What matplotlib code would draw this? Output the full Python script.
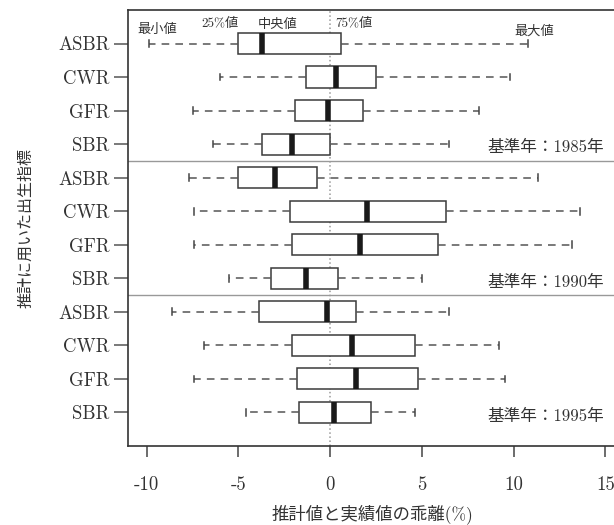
import numpy as np
import matplotlib.pyplot as plt

plt.rcParams['font.family'] = ['cmr10', 'Noto Sans CJK JP']

# rows top to bottom: base years 1985, 1990, 1995 x four fertility indices
indices = ['ASBR', 'CWR', 'GFR', 'SBR'] * 3
base_years = ['1985', '1990', '1995']

mins = [-9.9, -6.0, -7.5, -6.4,
        -7.7, -7.4, -7.4, -5.5,
        -8.6, -6.9, -7.4, -4.6]
q1 = [-5.0, -1.3, -1.9, -3.7,
      -5.0, -2.2, -2.1, -3.2,
      -3.9, -2.1, -1.8, -1.7]
medians = [-3.7, 0.3, -0.1, -2.1,
           -3.0, 2.0, 1.6, -1.3,
           -0.2, 1.2, 1.4, 0.2]
q3 = [0.6, 2.5, 1.8, 0.0,
      -0.7, 6.3, 5.9, 0.4,
      1.4, 4.6, 4.8, 2.2]
maxs = [10.8, 9.8, 8.1, 6.5,
        11.3, 13.6, 13.2, 5.0,
        6.5, 9.2, 9.5, 4.6]

stats = []
for lo, a, m, b, hi in zip(mins, q1, medians, q3, maxs):
    stats.append(dict(whislo=lo, q1=a, med=m, q3=b, whishi=hi, fliers=[]))

positions = np.arange(1, len(indices) + 1)
dark = '#333333'

fig = plt.figure(figsize=(6.14, 5.25), dpi=100)
ax = fig.add_axes([0.209, 0.1505, 0.795, 0.8305])

ax.axvline(0, color='#999999', linestyle=':', linewidth=1.1, zorder=0)

ax.bxp(stats, positions=positions, orientation='horizontal', widths=0.63,
       capwidths=0.2, showfliers=False, patch_artist=True,
       boxprops=dict(facecolor='white', edgecolor='#3a3a3a', linewidth=1.1),
       medianprops=dict(color='#1a1a1a', linewidth=4.0, solid_capstyle='butt'),
       whiskerprops=dict(color='#555555', linewidth=1.1, linestyle=(0, (5, 4))),
       capprops=dict(color='#444444', linewidth=1.1))

# separators between base-year groups
for y in [4.5, 8.5]:
    ax.axhline(y, color='#999999', linewidth=1.0)

for i, yr in enumerate(base_years):
    ax.text(14.92, 4.11 + 4 * i, '基準年：' + yr + '年', ha='right', va='center',
            fontsize=12, color=dark)

# legend-like notes on the first box
notes = [(-9.4, 0.6, '最小値'), (-6.0, 0.42, '25%値'), (-2.85, 0.45, '中央値'),
         (1.3, 0.42, '75%値'), (11.1, 0.63, '最大値')]
for x, y, s in notes:
    ax.text(x, y, s, ha='center', va='center', fontsize=9.5, color=dark)

ax.set_xlim(-11, 15.6)
ax.set_ylim(13, 0)
ax.set_xticks([-10, -5, 0, 5, 10, 15])
ax.set_xticklabels(['-10', '-5', '0', '5', '10', '15'])
ax.set_yticks(positions)
ax.set_yticklabels(indices)

ax.tick_params(axis='x', length=8, width=1.1, color='#444444', pad=14,
               labelsize=13.5, labelcolor=dark)
ax.tick_params(axis='y', length=10, width=1.1, color='#555555', pad=3.5,
               labelsize=13.5, labelcolor=dark)

for side in ['top', 'bottom', 'left', 'right']:
    ax.spines[side].set_color(dark)
    ax.spines[side].set_linewidth(1.2)

ax.set_xlabel('推計値と実績値の乖離(%)', fontsize=12.5, color=dark, labelpad=7)
ax.set_ylabel('推計に用いた出生指標', fontsize=11.5, color=dark, labelpad=18)

fig.savefig('out.png', dpi=100)
